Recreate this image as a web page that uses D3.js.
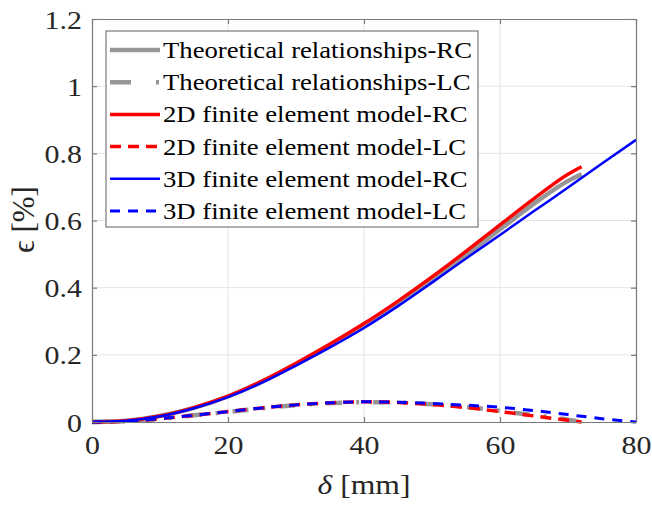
<!DOCTYPE html>
<html>
<head>
<meta charset="UTF-8">
<script src="https://d3js.org/d3.v7.min.js"></script>
<style>
  body { margin: 0; background: #fff; }
  svg { display: block; }
  svg text { font-family: "Liberation Serif", "Times New Roman", serif; }
</style>
</head>
<body>
<svg id="chart" width="652" height="505"></svg>
<script>
// data (delta in mm, epsilon in %)
const theoRC = [[0,0],[5,0.004],[10,0.018],[15,0.042],[20,0.076],[25,0.12],[30,0.172],[35,0.228],[40,0.288],[45,0.353],[50,0.424],[55,0.498],[60,0.574],[65,0.65],[70,0.718],[72,0.738]];
const theoLC = [[0,0],[5,0.002],[10,0.009],[15,0.02],[20,0.03],[25,0.041],[30,0.05],[35,0.056],[40,0.059],[45,0.058],[50,0.053],[55,0.045],[60,0.033],[65,0.02],[70,0.007],[72,0]];
const fe2dRC = [[0,0],[5,0.004],[10,0.018],[15,0.043],[20,0.077],[25,0.122],[30,0.175],[35,0.232],[40,0.293],[45,0.36],[50,0.432],[55,0.508],[60,0.587],[65,0.665],[70,0.738],[72,0.76]];
const fe2dLC = [[0,0],[5,0.002],[10,0.01],[15,0.02],[20,0.031],[25,0.042],[30,0.051],[35,0.057],[40,0.06],[45,0.058],[50,0.052],[55,0.043],[60,0.031],[65,0.018],[70,0.005],[72,0]];
const fe3dRC = [[0,0],[5,0.004],[10,0.017],[15,0.041],[20,0.074],[25,0.117],[30,0.168],[35,0.222],[40,0.28],[45,0.345],[50,0.415],[55,0.487],[60,0.557],[65,0.628],[70,0.698],[75,0.77],[80,0.84]];
const fe3dLC = [[0,0],[5,0.002],[10,0.01],[15,0.02],[20,0.031],[25,0.042],[30,0.051],[35,0.057],[40,0.06],[45,0.059],[50,0.055],[55,0.05],[60,0.044],[65,0.034],[70,0.022],[75,0.01],[80,0]];

const xTicks = [0, 20, 40, 60, 80];
const yTicks = [0, 0.2, 0.4, 0.6, 0.8, 1, 1.2];

const series = [
  {name: "Theoretical relationships-RC", data: theoRC, color: "#969696", width: 4.5, dash: null},
  {name: "Theoretical relationships-LC", data: theoLC, color: "#969696", width: 4.5, dash: "16,14,3,14", legendDash: "21,25,3,40"},
  {name: "2D finite element model-RC", data: fe2dRC, color: "#ff0000", width: 3.5, dash: null},
  {name: "2D finite element model-LC", data: fe2dLC, color: "#ff0000", width: 3.5, dash: "11,7"},
  {name: "3D finite element model-RC", data: fe3dRC, color: "#0000ff", width: 2.5, dash: null},
  {name: "3D finite element model-LC", data: fe3dLC, color: "#0000ff", width: 3, dash: "10,8"}
];

const svg = d3.select("#chart");
const margin = {top: 19, right: 16, bottom: 83, left: 92};
const W = 652 - margin.left - margin.right;
const H = 505 - margin.top - margin.bottom;
const g = svg.append("g").attr("transform", `translate(${margin.left},${margin.top})`);

const x = d3.scaleLinear().domain([0, 80]).range([0, W]);
const y = d3.scaleLinear().domain([0, 1.2]).range([H, 0]);
const axisColor = "#7a7a7a";
const serif = '"Liberation Serif", "Times New Roman", serif';

// the source image is a bit wider than tall, so widen horizontal text to match
function widen(sel, k = 1.13) {
  sel.each(function() {
    const w = this.getComputedTextLength();
    if (w > 0) d3.select(this).attr("textLength", w * k).attr("lengthAdjust", "spacingAndGlyphs");
  });
}

// grid
g.selectAll(".gx").data(xTicks.slice(1, -1)).join("line")
  .attr("x1", d => x(d)).attr("x2", d => x(d)).attr("y1", 0).attr("y2", H)
  .attr("stroke", "#e4e4e4").attr("stroke-width", 1);
g.selectAll(".gy").data(yTicks.slice(1, -1)).join("line")
  .attr("x1", 0).attr("x2", W).attr("y1", d => y(d)).attr("y2", d => y(d))
  .attr("stroke", "#e4e4e4").attr("stroke-width", 1);

// curves
const line = d3.line().x(d => x(d[0])).y(d => y(d[1])).curve(d3.curveMonotoneX);
series.forEach(s => {
  g.append("path").datum(s.data)
    .attr("d", line)
    .attr("fill", "none")
    .attr("stroke", s.color)
    .attr("stroke-width", s.width)
    .attr("stroke-dasharray", s.dash)
    .attr("stroke-linejoin", "round");
});

// axes (box with inward ticks)
const tickLen = 5;
const axB = g.append("g").attr("transform", `translate(0,${H})`)
  .call(d3.axisBottom(x).tickValues(xTicks).tickSizeInner(-tickLen).tickSizeOuter(0).tickPadding(14));
const axL = g.append("g")
  .call(d3.axisLeft(y).tickValues(yTicks).tickFormat(d3.format("~g")).tickSizeInner(-tickLen).tickSizeOuter(0).tickPadding(10));
const axT = g.append("g")
  .call(d3.axisTop(x).tickValues(xTicks).tickSizeInner(-tickLen).tickSizeOuter(0).tickFormat(""));
const axR = g.append("g").attr("transform", `translate(${W},0)`)
  .call(d3.axisRight(y).tickValues(yTicks).tickSizeInner(-tickLen).tickSizeOuter(0).tickFormat(""));
[axB, axL, axT, axR].forEach(a => {
  a.attr("font-family", serif);
  a.selectAll("path, line").attr("stroke", axisColor).attr("stroke-width", 1.2);
  a.selectAll("text").attr("fill", "#262626").attr("font-family", serif).attr("font-size", 26);
});
axB.selectAll("text").attr("dy", "0.71em");
axL.selectAll("text").attr("dy", "0.35em");
widen(axB.selectAll("text"), 1.15);
widen(axL.selectAll("text"), 1.15);

// axis labels
const xl = svg.append("text")
  .attr("x", margin.left + W / 2).attr("y", 494)
  .attr("text-anchor", "middle").attr("fill", "#262626")
  .attr("font-family", serif).attr("font-size", 28)
  .html('<tspan font-style="italic">δ</tspan> [mm]');
widen(xl);
svg.append("text")
  .attr("transform", `translate(34,${margin.top + H / 2 - 1}) rotate(-90)`)
  .attr("text-anchor", "middle").attr("fill", "#262626")
  .attr("font-family", serif).attr("font-size", 31)
  .text("ϵ [%]");

// legend
const lg = svg.append("g");
lg.append("rect").attr("x", 106).attr("y", 31).attr("width", 372).attr("height", 196)
  .attr("fill", "#fff").attr("stroke", axisColor).attr("stroke-width", 1.2);
series.forEach((s, i) => {
  const cy = 50 + i * 32.2;
  lg.append("line").attr("x1", 110).attr("x2", 160).attr("y1", cy).attr("y2", cy)
    .attr("stroke", s.color).attr("stroke-width", s.width)
    .attr("stroke-dasharray", s.legendDash || s.dash);
  const t = lg.append("text").attr("x", 163).attr("y", cy).attr("dy", "0.35em")
    .attr("fill", "#000").attr("font-family", serif).attr("font-size", 23)
    .text(s.name);
  widen(t, 1.16);
});
</script>
</body>
</html>
